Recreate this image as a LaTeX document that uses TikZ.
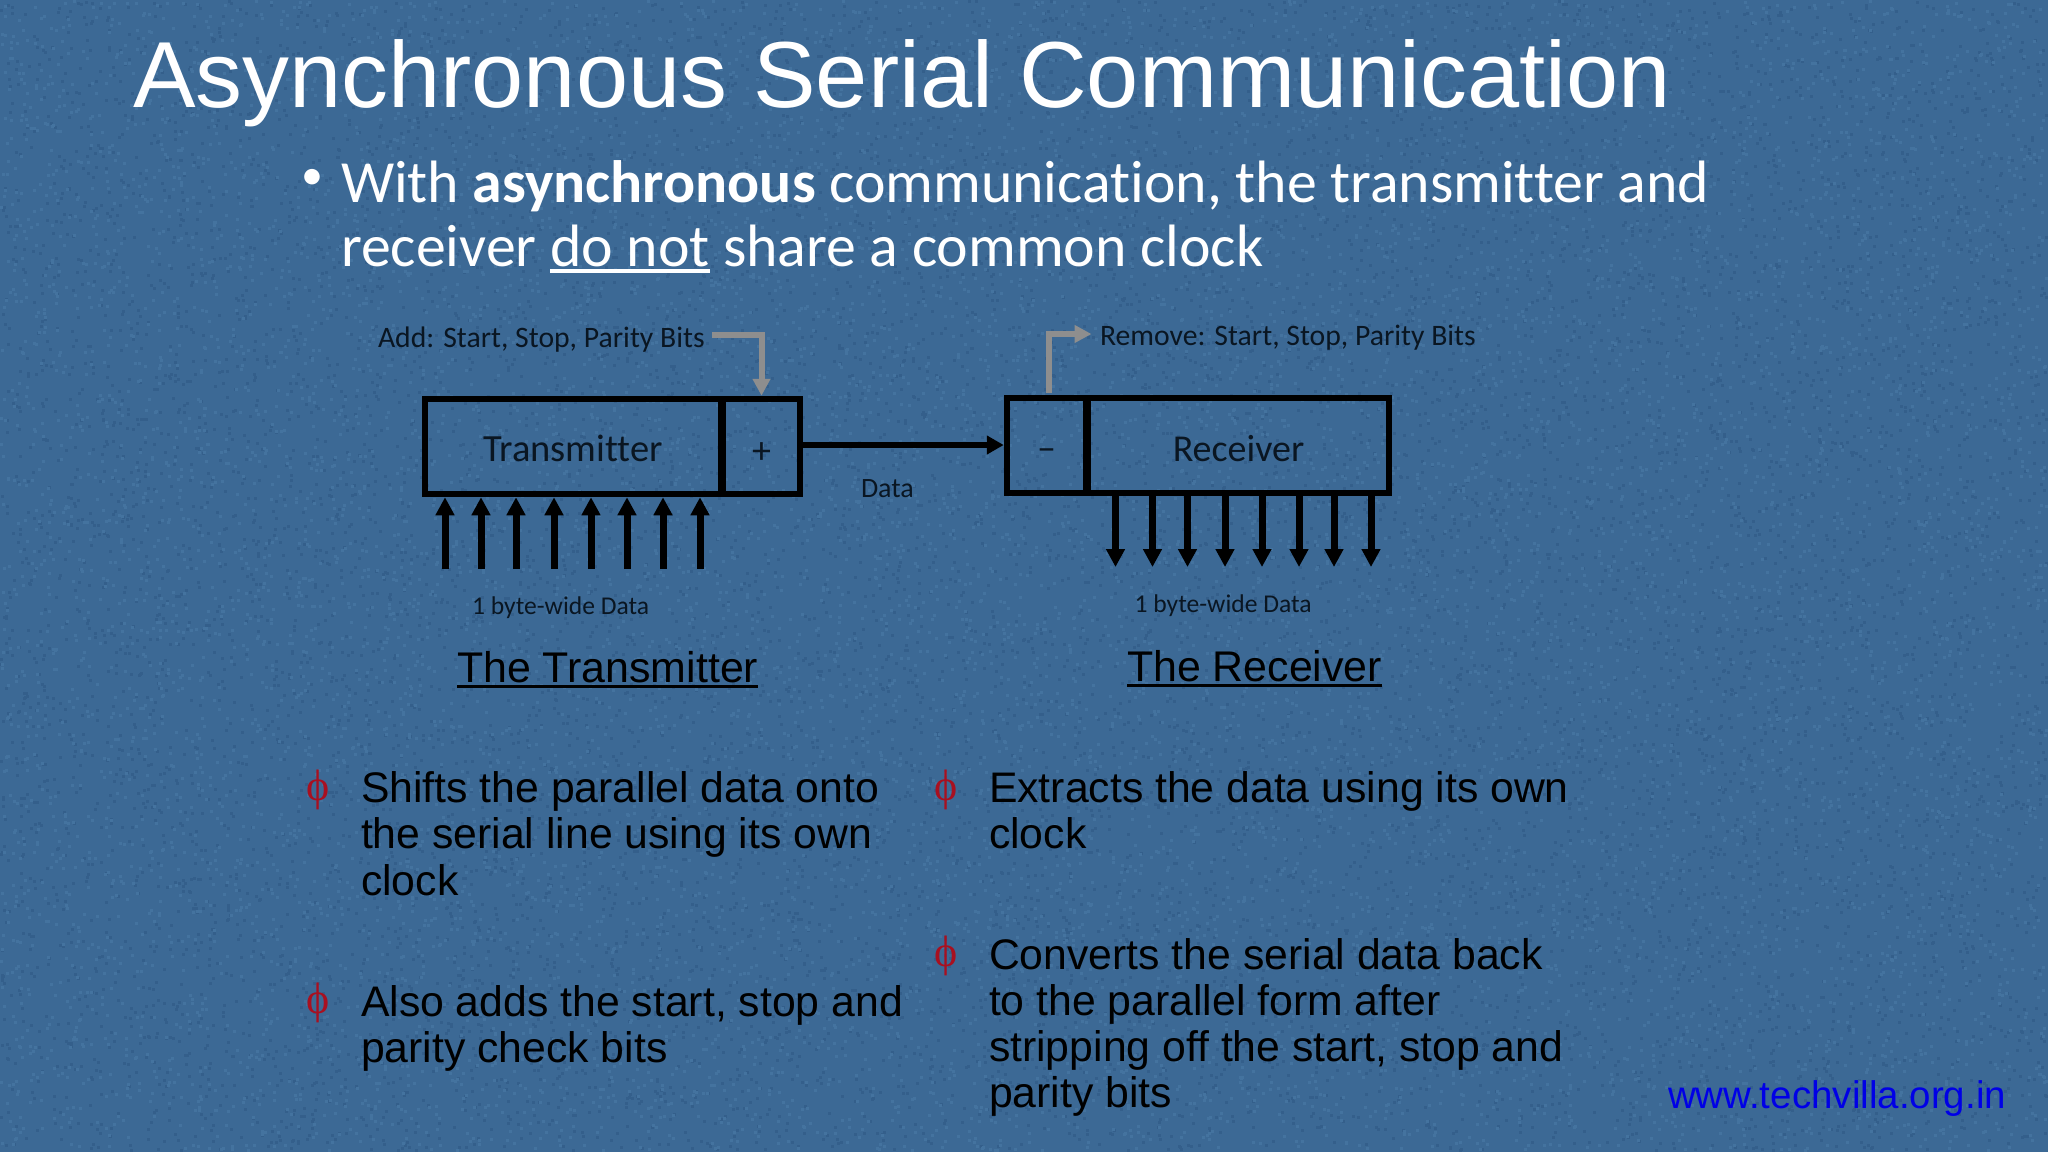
\documentclass[tikz,border=0pt]{standalone}
\usepackage{fontspec}
\setmainfont{Liberation Sans}
\newfontfamily\calfont[Ligatures=NoCommon]{Carlito}
\newfontfamily\phifont{Liberation Serif}
\usetikzlibrary{arrows.meta}
\definecolor{bgblue}{HTML}{3C6995}
\definecolor{grainlo}{HTML}{345F8B}
\definecolor{grainhi}{HTML}{44739F}
\definecolor{ink}{HTML}{0A1622}
\definecolor{arrowgray}{HTML}{8E8E8E}
\definecolor{phired}{HTML}{A81020}
\definecolor{urlblue}{HTML}{0000E6}
\newcommand{\fs}[1]{\fontsize{#1}{#1}\selectfont}
\newcommand{\ulin}[3]{\leavevmode\vtop{\hbox{#3}\nointerlineskip\kern#1\hrule height #2\relax}}
\tikzset{
  txt/.style={anchor=base west,inner sep=0pt,outer sep=0pt},
  blockbox/.style={draw=black,line width=6.5pt,rectangle,inner sep=0pt,text=ink,text depth=0pt},
  graybar/.style={draw=arrowgray,line width=6pt},
  busup/.style={draw=black,line width=7pt,-{Triangle[length=18pt,width=18pt]}},
  busdown/.style={draw=black,line width=7pt,-{Triangle[length=18pt,width=18pt]}},
  datawire/.style={draw=black,line width=6pt,-{Triangle[length=17pt,width=18pt]}},
  head/.style={txt,text=white},
  itemtext/.style={txt,text=black,font=\fs{42.75}},
  phi/.style={inner sep=0pt,text=phired,font=\phifont\fs{44}},
  small/.style={txt,text=ink,font=\calfont\fs{29.7}},
  caption/.style={txt,text=black,font=\fs{42.9}},
}
\begin{document}
\begin{tikzpicture}[x=1pt,y=-1pt]
\useasboundingbox (0,0) rectangle (2048,1152);
\fill[bgblue] (0,0) rectangle (2048,1152);
\pgfmathsetseed{4242}
\begin{scope}
\pgfsetfillcolor{grainlo}
\foreach \i in {1,...,12000}{%
  \pgfmathrandominteger{\gx}{0}{2045}\pgfmathrandominteger{\gy}{3}{1152}%
  \pgfpathrectangle{\pgfpoint{\gx pt}{-\gy pt}}{\pgfqpoint{3pt}{3pt}}\pgfusepath{fill}}
\pgfsetfillcolor{grainhi}
\foreach \i in {1,...,12000}{%
  \pgfmathrandominteger{\gx}{0}{2045}\pgfmathrandominteger{\gy}{3}{1152}%
  \pgfpathrectangle{\pgfpoint{\gx pt}{-\gy pt}}{\pgfqpoint{3pt}{3pt}}\pgfusepath{fill}}
\end{scope}
\node[head,font=\fs{93.8}] (title) at (133,107) {Asynchronous Serial Communication};
\node[head,font=\calfont\fs{44}] (bullet) at (301.5,189) {•};
\node[head,font=\calfont\fs{59.8}] (line1) at (341,202) {With \textbf{asynchronous} communication, the transmitter and};
\node[head,font=\calfont\fs{59.8}] (line2) at (341,266) {receiver \ulin{3pt}{4pt}{do not} share a common clock};

% transmitter block
\node[blockbox,minimum width=296pt,minimum height=95pt,text height=29pt,font=\calfont\fs{38.5}] (trans) at (573,446.5) {Transmitter};
\node[blockbox,minimum width=77pt,minimum height=95pt,text height=34pt,font=\calfont\fs{38}] (plus) at (761.5,446.5) {+};
% receiver block
\node[blockbox,minimum width=79pt,minimum height=95pt,text height=29pt,font=\calfont\fs{38}] (minus) at (1046.5,445.5) {–};
\node[blockbox,minimum width=301pt,minimum height=95pt,text height=31pt,font=\calfont\fs{38}] (recv) at (1238.5,445.5) {Receiver};

\coordinate (wirestart) at (803,445);
\draw[datawire] (wirestart) -- (wirestart -| minus.west);
\node[small,font=\calfont\fs{28}] (data) at (861,497) {Data};

% add / remove labels
\node[small] (addlabel) at (378,347) {Add: Start, Stop, Parity Bits};
\node[small] (remlabel) at (1100,345) {Remove: Start, Stop, Parity Bits};
\coordinate (addstart) at (712,335);
\coordinate (remstart) at (1049,393);
\coordinate (remend) at (1091.5,334);
\draw[graybar,-{Triangle[length=17pt,width=17pt]}] (addstart) -| (plus.north);
\draw[graybar,-{Triangle[length=17pt,width=17pt]}] (remstart) |- (remend);

% parallel data
\foreach \i/\x in {1/445,2/481,3/516,4/554,5/591,6/627,7/663,8/700}{
  \coordinate (u\i) at (\x,569);
  \draw[busup] (u\i) -- (u\i |- trans.south);
}
\foreach \i/\x in {1/1115.5,2/1152.5,3/1187.5,4/1225,5/1262,6/1299,7/1334,8/1371}{
  \coordinate (d\i) at (\x,567);
  \draw[busdown] (d\i |- recv.south) -- (d\i);
}
\node[small,font=\calfont\fs{25.6}] (txdata) at (472,614) {1 byte-wide Data};
\node[small,font=\calfont\fs{25.6}] (rxdata) at (1134.5,612) {1 byte-wide Data};

% captions
\node[caption] (captx) at (457,682) {\ulin{3pt}{3pt}{The Transmitter}};
\node[caption] (caprx) at (1127,681) {\ulin{3pt}{3pt}{The Receiver}};

% lists
\node[phi] (p1) at (318,790) {ϕ};
\node[itemtext] (a1) at (361,802) {Shifts the parallel data onto};
\node[itemtext] (a2) at (361,848) {the serial line using its own};
\node[itemtext] (a3) at (361,895) {clock};
\node[phi] (p2) at (318,1003) {ϕ};
\node[itemtext] (b1) at (361,1016) {Also adds the start, stop and};
\node[itemtext] (b2) at (361,1062) {parity check bits};
\node[phi] (p3) at (946,790) {ϕ};
\node[itemtext] (c1) at (989,802) {Extracts the data using its own};
\node[itemtext] (c2) at (989,848) {clock};
\node[phi] (p4) at (946,956) {ϕ};
\node[itemtext] (d1) at (989,969) {Converts the serial data back};
\node[itemtext] (d2) at (989,1015) {to the parallel form after};
\node[itemtext] (d3) at (989,1061) {stripping off the start, stop and};
\node[itemtext] (d4) at (989,1107) {parity bits};

\node[txt,text=urlblue,font=\fs{38.5}] (url) at (1668,1108) {www.techvilla.org.in};
\end{tikzpicture}
\end{document}
